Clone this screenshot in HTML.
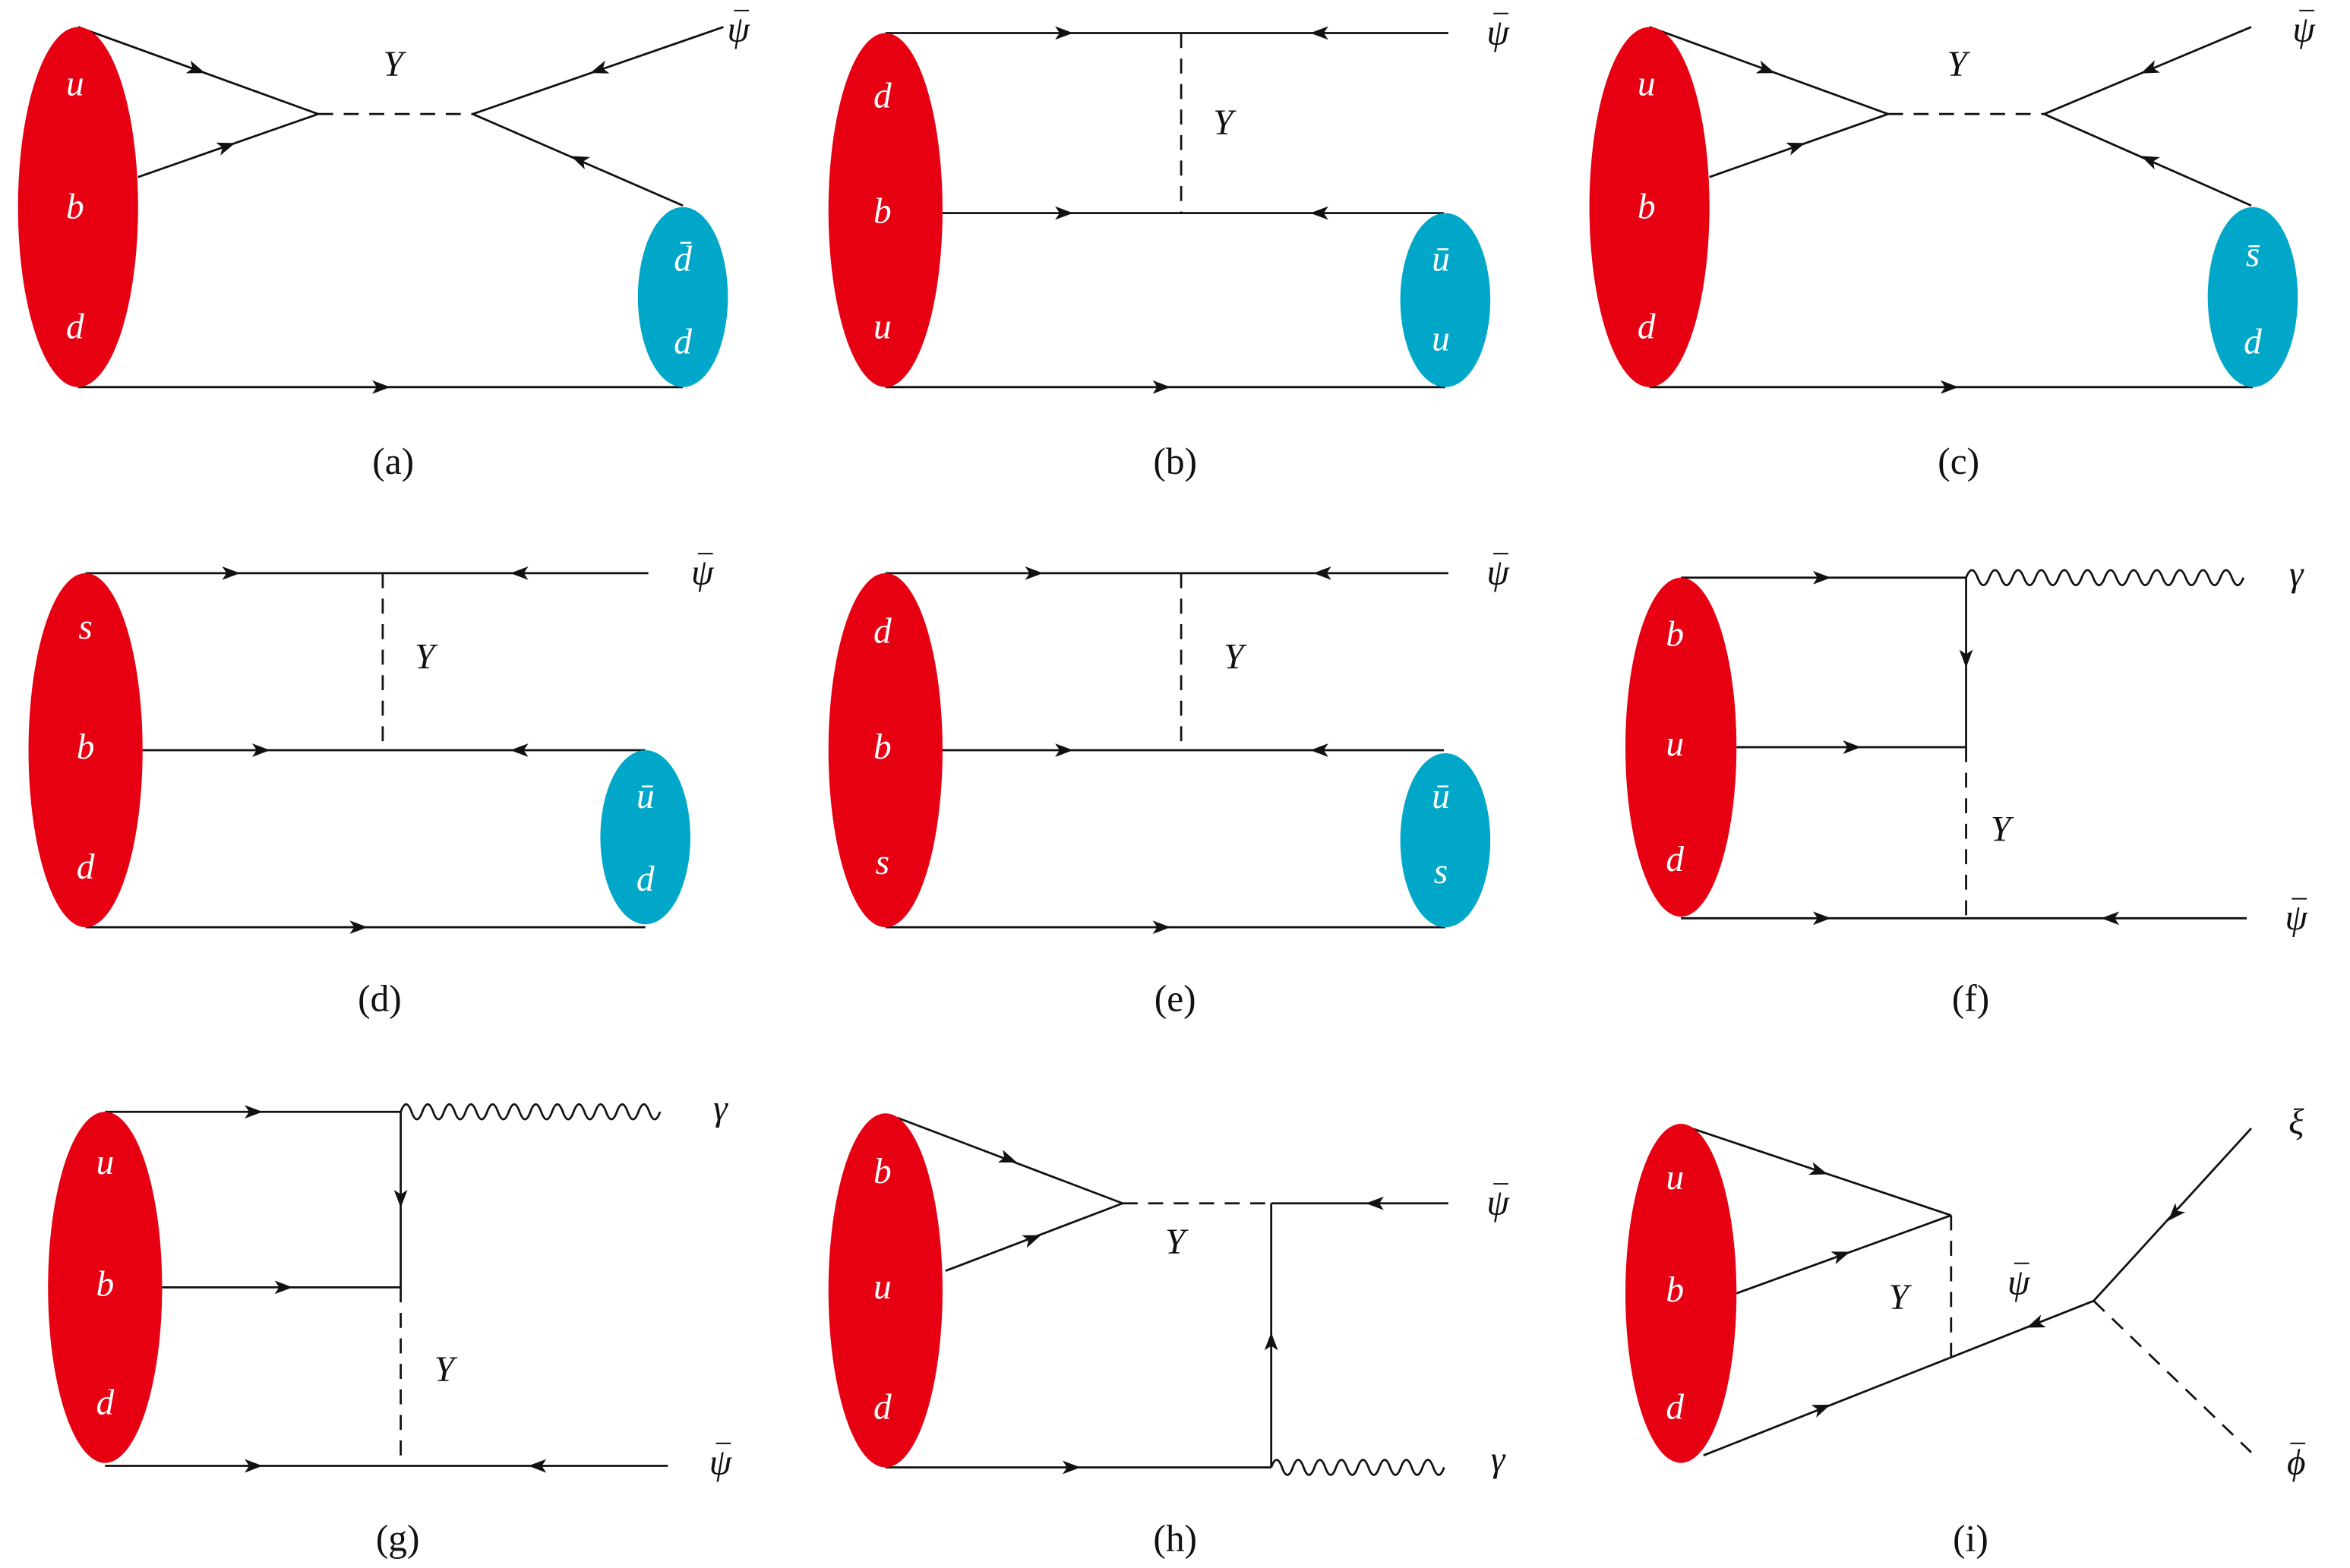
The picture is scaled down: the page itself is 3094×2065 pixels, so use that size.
<!DOCTYPE html>
<html><head><meta charset="utf-8"><style>
html,body{margin:0;padding:0;background:#fff;}
svg{display:block;}
text{font-family:"Liberation Serif","DejaVu Serif",serif;font-style:italic;font-size:24px;text-anchor:middle;dominant-baseline:middle;}
.w{fill:#fff;}
.c{font-style:normal;font-size:25px;}
</style></head><body>
<svg width="3094" height="2065" viewBox="0 0 1547 1032.5" xmlns="http://www.w3.org/2000/svg">
<defs><path id="ar" d="M5,0 L-7,-4.5 L-4,0 L-7,4.5Z" fill="#111"/></defs>
<g transform="scale(0.988)">
<g stroke="#111" stroke-width="1.4" fill="none">
<!-- a -->
<line x1="52" y1="18" x2="212" y2="76"/><line x1="92" y1="118" x2="212" y2="76"/>
<line x1="212" y1="76" x2="315" y2="76" stroke-dasharray="10,7"/>
<line x1="315" y1="76" x2="482" y2="18"/><line x1="315" y1="76" x2="455" y2="137"/>
<line x1="52" y1="258" x2="455" y2="258"/>
<!-- b -->
<line x1="590" y1="22" x2="965" y2="22"/><line x1="787" y1="22" x2="787" y2="142" stroke-dasharray="10,7"/>
<line x1="628" y1="142" x2="962" y2="142"/><line x1="590" y1="258" x2="963" y2="258"/>
<!-- c -->
<line x1="1099" y1="18" x2="1258" y2="76"/><line x1="1139" y1="118" x2="1258" y2="76"/>
<line x1="1258" y1="76" x2="1362" y2="76" stroke-dasharray="10,7"/>
<line x1="1362" y1="76" x2="1500" y2="18"/><line x1="1362" y1="76" x2="1500" y2="137"/>
<line x1="1099" y1="258" x2="1501" y2="258"/>
<!-- d -->
<line x1="57" y1="382" x2="432" y2="382"/><line x1="255" y1="382" x2="255" y2="500" stroke-dasharray="10,7"/>
<line x1="95" y1="500" x2="430" y2="500"/><line x1="57" y1="618" x2="430" y2="618"/>
<!-- e -->
<line x1="590" y1="382" x2="965" y2="382"/><line x1="787" y1="382" x2="787" y2="500" stroke-dasharray="10,7"/>
<line x1="628" y1="500" x2="962" y2="500"/><line x1="590" y1="618" x2="963" y2="618"/>
<!-- f -->
<line x1="1120" y1="385" x2="1310" y2="385"/><line x1="1310" y1="385" x2="1310" y2="498"/>
<line x1="1157" y1="498" x2="1310" y2="498"/><line x1="1310" y1="498" x2="1310" y2="612" stroke-dasharray="10,7"/>
<line x1="1120" y1="612" x2="1497" y2="612"/>
<path d="M1310,385 q3.85,-10 7.7,0 t7.7,0 t7.7,0 t7.7,0 t7.7,0 t7.7,0 t7.7,0 t7.7,0 t7.7,0 t7.7,0 t7.7,0 t7.7,0 t7.7,0 t7.7,0 t7.7,0 t7.7,0 t7.7,0 t7.7,0 t7.7,0 t7.7,0 t7.7,0 t7.7,0 t7.7,0 t7.7,0"/>
<!-- g -->
<line x1="70" y1="741" x2="267" y2="741"/><line x1="267" y1="741" x2="267" y2="858"/>
<line x1="108" y1="858" x2="267" y2="858"/><line x1="267" y1="858" x2="267" y2="977" stroke-dasharray="10,7"/>
<line x1="70" y1="977" x2="445" y2="977"/>
<path d="M267,741 q3.6,-10 7.2,0 t7.2,0 t7.2,0 t7.2,0 t7.2,0 t7.2,0 t7.2,0 t7.2,0 t7.2,0 t7.2,0 t7.2,0 t7.2,0 t7.2,0 t7.2,0 t7.2,0 t7.2,0 t7.2,0 t7.2,0 t7.2,0 t7.2,0 t7.2,0 t7.2,0 t7.2,0 t7.2,0"/>
<!-- h -->
<line x1="598" y1="745" x2="748" y2="802"/><line x1="630" y1="847" x2="748" y2="802"/>
<line x1="748" y1="802" x2="847" y2="802" stroke-dasharray="10,7"/>
<line x1="847" y1="802" x2="965" y2="802"/><line x1="847" y1="802" x2="847" y2="978"/>
<line x1="590" y1="978" x2="847" y2="978"/>
<path d="M847,978 q3.6,-10 7.2,0 t7.2,0 t7.2,0 t7.2,0 t7.2,0 t7.2,0 t7.2,0 t7.2,0 t7.2,0 t7.2,0 t7.2,0 t7.2,0 t7.2,0 t7.2,0 t7.2,0 t7.2,0"/>
<!-- i -->
<line x1="1127" y1="752" x2="1300" y2="810"/><line x1="1157" y1="862" x2="1300" y2="810"/>
<line x1="1300" y1="810" x2="1300" y2="907" stroke-dasharray="10,7"/>
<line x1="1135" y1="970" x2="1395" y2="867"/><line x1="1395" y1="867" x2="1500" y2="752"/>
<line x1="1395" y1="867" x2="1500" y2="968" stroke-dasharray="10,7"/>
</g>
<!-- arrows -->
<use href="#ar" transform="translate(132,47) rotate(20)"/>
<use href="#ar" transform="translate(152,97) rotate(-19.3)"/>
<use href="#ar" transform="translate(398,47) rotate(160.8)"/>
<use href="#ar" transform="translate(385,106) rotate(203.5)"/>
<use href="#ar" transform="translate(255,258)"/>
<use href="#ar" transform="translate(710,22)"/><use href="#ar" transform="translate(878,22) rotate(180)"/>
<use href="#ar" transform="translate(710,142)"/><use href="#ar" transform="translate(878,142) rotate(180)"/>
<use href="#ar" transform="translate(775,258)"/>
<use href="#ar" transform="translate(1178,47) rotate(20)"/>
<use href="#ar" transform="translate(1198,97) rotate(-19.4)"/>
<use href="#ar" transform="translate(1431,47) rotate(157)"/>
<use href="#ar" transform="translate(1431,106) rotate(204)"/>
<use href="#ar" transform="translate(1300,258)"/>
<use href="#ar" transform="translate(155,382)"/><use href="#ar" transform="translate(345,382) rotate(180)"/>
<use href="#ar" transform="translate(175,500)"/><use href="#ar" transform="translate(345,500) rotate(180)"/>
<use href="#ar" transform="translate(240,618)"/>
<use href="#ar" transform="translate(690,382)"/><use href="#ar" transform="translate(880,382) rotate(180)"/>
<use href="#ar" transform="translate(710,500)"/><use href="#ar" transform="translate(878,500) rotate(180)"/>
<use href="#ar" transform="translate(775,618)"/>
<use href="#ar" transform="translate(1215,385)"/><use href="#ar" transform="translate(1310,440) rotate(90)"/>
<use href="#ar" transform="translate(1235,498)"/>
<use href="#ar" transform="translate(1215,612)"/><use href="#ar" transform="translate(1405,612) rotate(180)"/>
<use href="#ar" transform="translate(170,741)"/><use href="#ar" transform="translate(267,800) rotate(90)"/>
<use href="#ar" transform="translate(190,858)"/>
<use href="#ar" transform="translate(170,977)"/><use href="#ar" transform="translate(357,977) rotate(180)"/>
<use href="#ar" transform="translate(673,773) rotate(20.8)"/>
<use href="#ar" transform="translate(689,825) rotate(-20.9)"/>
<use href="#ar" transform="translate(915,802) rotate(180)"/>
<use href="#ar" transform="translate(847,893) rotate(-90)"/>
<use href="#ar" transform="translate(715,978)"/>
<use href="#ar" transform="translate(1213,781) rotate(18.5)"/>
<use href="#ar" transform="translate(1228,836) rotate(-20)"/>
<use href="#ar" transform="translate(1215,938) rotate(-21.6)"/>
<use href="#ar" transform="translate(1355,883) rotate(158.4)"/>
<use href="#ar" transform="translate(1448,810) rotate(132.4)"/>
<!-- blobs -->
<g fill="#e60012">
<ellipse cx="52" cy="138" rx="40" ry="120"/>
<ellipse cx="590" cy="140" rx="38" ry="118"/>
<ellipse cx="1099" cy="138" rx="40" ry="120"/>
<ellipse cx="57" cy="500" rx="38" ry="118"/>
<ellipse cx="590" cy="500" rx="38" ry="118"/>
<ellipse cx="1120" cy="498" rx="37" ry="113"/>
<ellipse cx="70" cy="858" rx="38" ry="117"/>
<ellipse cx="590" cy="860" rx="38" ry="118"/>
<ellipse cx="1120" cy="862" rx="37" ry="113"/>
</g>
<g fill="#00a7c8">
<ellipse cx="455" cy="198" rx="30" ry="60"/>
<ellipse cx="963" cy="200" rx="30" ry="58"/>
<ellipse cx="1501" cy="198" rx="30" ry="60"/>
<ellipse cx="430" cy="558" rx="30" ry="58"/>
<ellipse cx="963" cy="560" rx="30" ry="58"/>
</g>
<g class="w">
<text x="50" y="58">u</text><text x="50" y="140">b</text><text x="50" y="220">d</text>
<text x="455" y="175">d̄</text><text x="455" y="230">d</text>
<text x="588" y="66">d</text><text x="588" y="143">b</text><text x="588" y="220">u</text>
<text x="960" y="175">ū</text><text x="960" y="228">u</text>
<text x="1097" y="58">u</text><text x="1097" y="140">b</text><text x="1097" y="220">d</text>
<text x="1501" y="172">s̄</text><text x="1501" y="230">d</text>
<text x="57" y="420">s</text><text x="57" y="500">b</text><text x="57" y="580">d</text>
<text x="430" y="533">ū</text><text x="430" y="588">d</text>
<text x="588" y="423">d</text><text x="588" y="500">b</text><text x="588" y="577">s</text>
<text x="960" y="533">ū</text><text x="960" y="583">s</text>
<text x="1116" y="425">b</text><text x="1116" y="498">u</text><text x="1116" y="575">d</text>
<text x="70" y="777">u</text><text x="70" y="858">b</text><text x="70" y="937">d</text>
<text x="588" y="783">b</text><text x="588" y="860">u</text><text x="588" y="940">d</text>
<text x="1116" y="787">u</text><text x="1116" y="862">b</text><text x="1116" y="940">d</text>
</g>
<g fill="#111">
<text x="262" y="45">Y</text><text x="815" y="84">Y</text><text x="1304" y="45">Y</text>
<text x="283" y="440">Y</text><text x="822" y="440">Y</text>
<text x="1530" y="385">γ</text><text x="1333" y="555">Y</text>
<text x="480" y="741">γ</text><text x="296" y="915">Y</text>
<text x="783" y="830">Y</text><text x="998" y="975">γ</text>
<text x="1265" y="867">Y</text><text x="1530" y="750">ξ</text>
<text x="492" y="22">ψ</text><text x="998" y="24">ψ</text><text x="1535" y="22">ψ</text>
<text x="468" y="384">ψ</text><text x="998" y="384">ψ</text><text x="1530" y="614">ψ</text>
<text x="480" y="977">ψ</text><text x="998" y="804">ψ</text><text x="1345" y="857">ψ</text>
<text x="1530" y="977">ϕ</text>
<text class="c" x="262" y="310">(a)</text><text class="c" x="783" y="310">(b)</text><text class="c" x="1305" y="310">(c)</text>
<text class="c" x="253" y="668">(d)</text><text class="c" x="783" y="668">(e)</text><text class="c" x="1313" y="668">(f)</text>
<text class="c" x="265" y="1028">(g)</text><text class="c" x="783" y="1028">(h)</text><text class="c" x="1313" y="1028">(i)</text>
</g>
<g stroke="#111" stroke-width="1">
<line x1="489" y1="7" x2="499" y2="7"/>
<line x1="995" y1="9" x2="1005" y2="9"/>
<line x1="1532" y1="7" x2="1542" y2="7"/>
<line x1="465" y1="369" x2="475" y2="369"/>
<line x1="995" y1="369" x2="1005" y2="369"/>
<line x1="1527" y1="599" x2="1537" y2="599"/>
<line x1="477" y1="962" x2="487" y2="962"/>
<line x1="995" y1="789" x2="1005" y2="789"/>
<line x1="1342" y1="842" x2="1352" y2="842"/>
<line x1="1526" y1="962" x2="1536" y2="962"/>
</g>
</g>
</svg>
</body></html>
